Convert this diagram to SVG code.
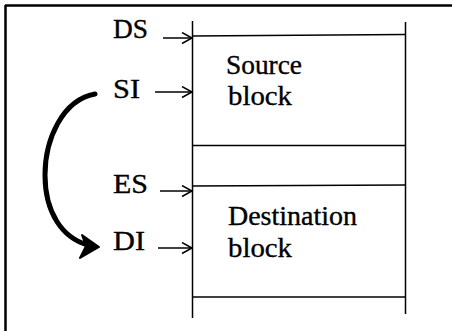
<svg xmlns="http://www.w3.org/2000/svg" width="452" height="331" viewBox="0 0 452 331">
<defs>
<style>
.t{font-family:"Liberation Serif","Times New Roman","DejaVu Serif",serif;font-size:27px;fill:#000;stroke:#000;stroke-width:0.35}
.ln{stroke:#000;stroke-width:1.5;fill:none}
.ar{stroke:#000;stroke-width:1.5;fill:none}
</style>
<marker id="open" markerWidth="14" markerHeight="14" refX="11" refY="6" orient="auto" markerUnits="userSpaceOnUse">
<path d="M1 0.5 L11 6 L1 11.5" fill="none" stroke="#000" stroke-width="1.5"/>
</marker>
</defs>
<rect width="452" height="331" fill="#fff"/>
<g id="frame">
<line x1="5" y1="5.5" x2="452" y2="5.5" stroke="#000" stroke-width="2.5"/>
<line x1="5.5" y1="5" x2="5.5" y2="331" stroke="#000" stroke-width="2.5"/>
</g>
<g id="memory">
<line class="ln" x1="192.5" y1="21" x2="192.5" y2="318"/>
<line class="ln" x1="405.5" y1="22" x2="405.5" y2="314"/>
</g>
<g id="source-block">
<line class="ln" x1="192" y1="36" x2="405" y2="34.5"/>
<line class="ln" x1="192" y1="145.5" x2="405" y2="145.5"/>
<text class="t" x="226" y="74" textLength="76" lengthAdjust="spacingAndGlyphs">Source</text>
<text class="t" x="228" y="105" textLength="64" lengthAdjust="spacingAndGlyphs">block</text>
</g>
<g id="destination-block">
<line class="ln" x1="192" y1="186" x2="405" y2="185"/>
<line class="ln" x1="193" y1="297" x2="405" y2="297" stroke-width="2"/>
<text class="t" x="228" y="225" textLength="129" lengthAdjust="spacingAndGlyphs">Destination</text>
<text class="t" x="228" y="257" textLength="64" lengthAdjust="spacingAndGlyphs">block</text>
</g>
<g id="label-DS"><text class="t" x="113" y="38" textLength="35" lengthAdjust="spacingAndGlyphs">DS</text></g>
<g id="label-SI"><text class="t" x="113" y="98" textLength="27" lengthAdjust="spacingAndGlyphs">SI</text></g>
<g id="label-ES"><text class="t" x="113" y="193" textLength="35" lengthAdjust="spacingAndGlyphs">ES</text></g>
<g id="label-DI"><text class="t" x="113" y="250" textLength="32" lengthAdjust="spacingAndGlyphs">DI</text></g>
<g id="connectors">
<line class="ar" x1="163" y1="38" x2="192" y2="38" marker-end="url(#open)"/>
<line class="ar" x1="155" y1="92" x2="192" y2="92" marker-end="url(#open)"/>
<line class="ar" x1="160" y1="191" x2="192" y2="191" marker-end="url(#open)"/>
<line class="ar" x1="158" y1="248" x2="192" y2="248" marker-end="url(#open)"/>
<path d="M95 94 C62 100 45 140 45 175 C45 212 62 238 88 245" fill="none" stroke="#000" stroke-width="5" stroke-linecap="round"/>
<path d="M99 247 L82 235 L86 246 L80 258 Z" fill="#000" stroke="#000" stroke-width="2" stroke-linejoin="round"/>
</g>
</svg>
